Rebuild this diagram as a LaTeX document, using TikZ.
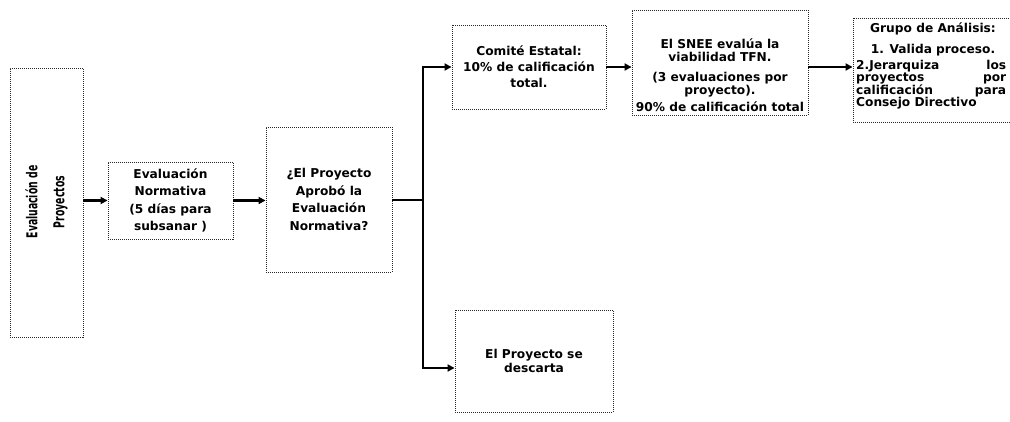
\documentclass[tikz,border=0pt]{standalone}
\usepackage{fontspec}
\setmainfont{DejaVu Sans}
\usetikzlibrary{arrows.meta,calc}
\begin{document}
\begin{tikzpicture}[x=1pt,y=-1pt,
  box/.style={draw=black!85, line width=0.9pt, dash pattern=on 1pt off 1pt, inner sep=0pt, align=center,
    font=\bfseries\fontsize{12.2}{17.5}\selectfont},
  txt/.style={font=\bfseries\fontsize{12.2}{13.5}\selectfont, align=center, inner sep=0pt},
  conn/.style={line width=2.2pt, -{Triangle[length=7pt,width=7pt]}},
  plain/.style={line width=2.2pt}]
\useasboundingbox (0,0) rectangle (1010,422);
\fill[white] (0,0) rectangle (1010,422);
% left box
\node[box, minimum width=73pt, minimum height=269pt] (L) at (46.5,202.5) {};
\node[rotate=90, inner sep=0pt, align=center, font=\bfseries\fontsize{15}{17}\selectfont] (Lt) at (46.5,202)
  {\scalebox{0.62}[1]{Evaluación de}\\[10pt]\scalebox{0.62}[1]{Proyectos}};
% evaluacion normativa
\node[box, minimum width=125pt, minimum height=77pt] (EN) at (170.5,200.5)
  {Evaluación\\Normativa\\(5 días para\\subsanar )};
% decision
\node[box, minimum width=126pt, minimum height=145pt] (P) at (329,199.5)
  {¿El Proyecto\\Aprobó la\\Evaluación\\Normativa?};
% comite
\node[box, minimum width=154pt, minimum height=84pt, font=\bfseries\fontsize{12.2}{16}\selectfont] (C) at (529,67)
  {Comité Estatal:\\10\% de calificación\\total.};
% SNEE
\node[box, minimum width=176pt, minimum height=105pt] (S) at (720,62.5) {};
\node[txt] (St) at (720,75)
  {El SNEE evalúa la\\viabilidad TFN.\\[6pt](3 evaluaciones por\\proyecto).\\[3pt]90\% de calificación total};
% grupo
\node[box, minimum width=163pt, minimum height=104pt] (G) at (934.5,70) {};
\node[txt] (G1) at (933,29) {Grupo de Análisis:};
\node[txt] (G2) at (933,50) {1. Valida proceso.};
\node[txt, anchor=north west, text width=150pt, align=justify, font=\bfseries\fontsize{12.2}{12}\selectfont] (G3) at (856,60)
  {2.Jerarquiza los\linebreak proyectos por\linebreak calificación para\linebreak Consejo Directivo};
% descarta
\node[box, minimum width=158pt, minimum height=102pt, font=\bfseries\fontsize{12.2}{13.5}\selectfont] (D) at (534,361)
  {El Proyecto se\\descarta};
% connectors
\coordinate (J) at (423,200);
\draw[conn] (L.east |- EN.west) -- (EN.west);
\draw[conn] (EN.east) -- (EN.east -| P.west);
\draw[plain] (P.east |- J) -- (J);
\draw[conn] (J) |- (C.west);
\draw[conn] (J) |- ([yshift=-7pt]D.west);
\draw[conn] (C.east) -- (C.east -| S.west);
\draw[conn] (S.east |- C.east) -- (C.east -| G.west);
\end{tikzpicture}
\end{document}
